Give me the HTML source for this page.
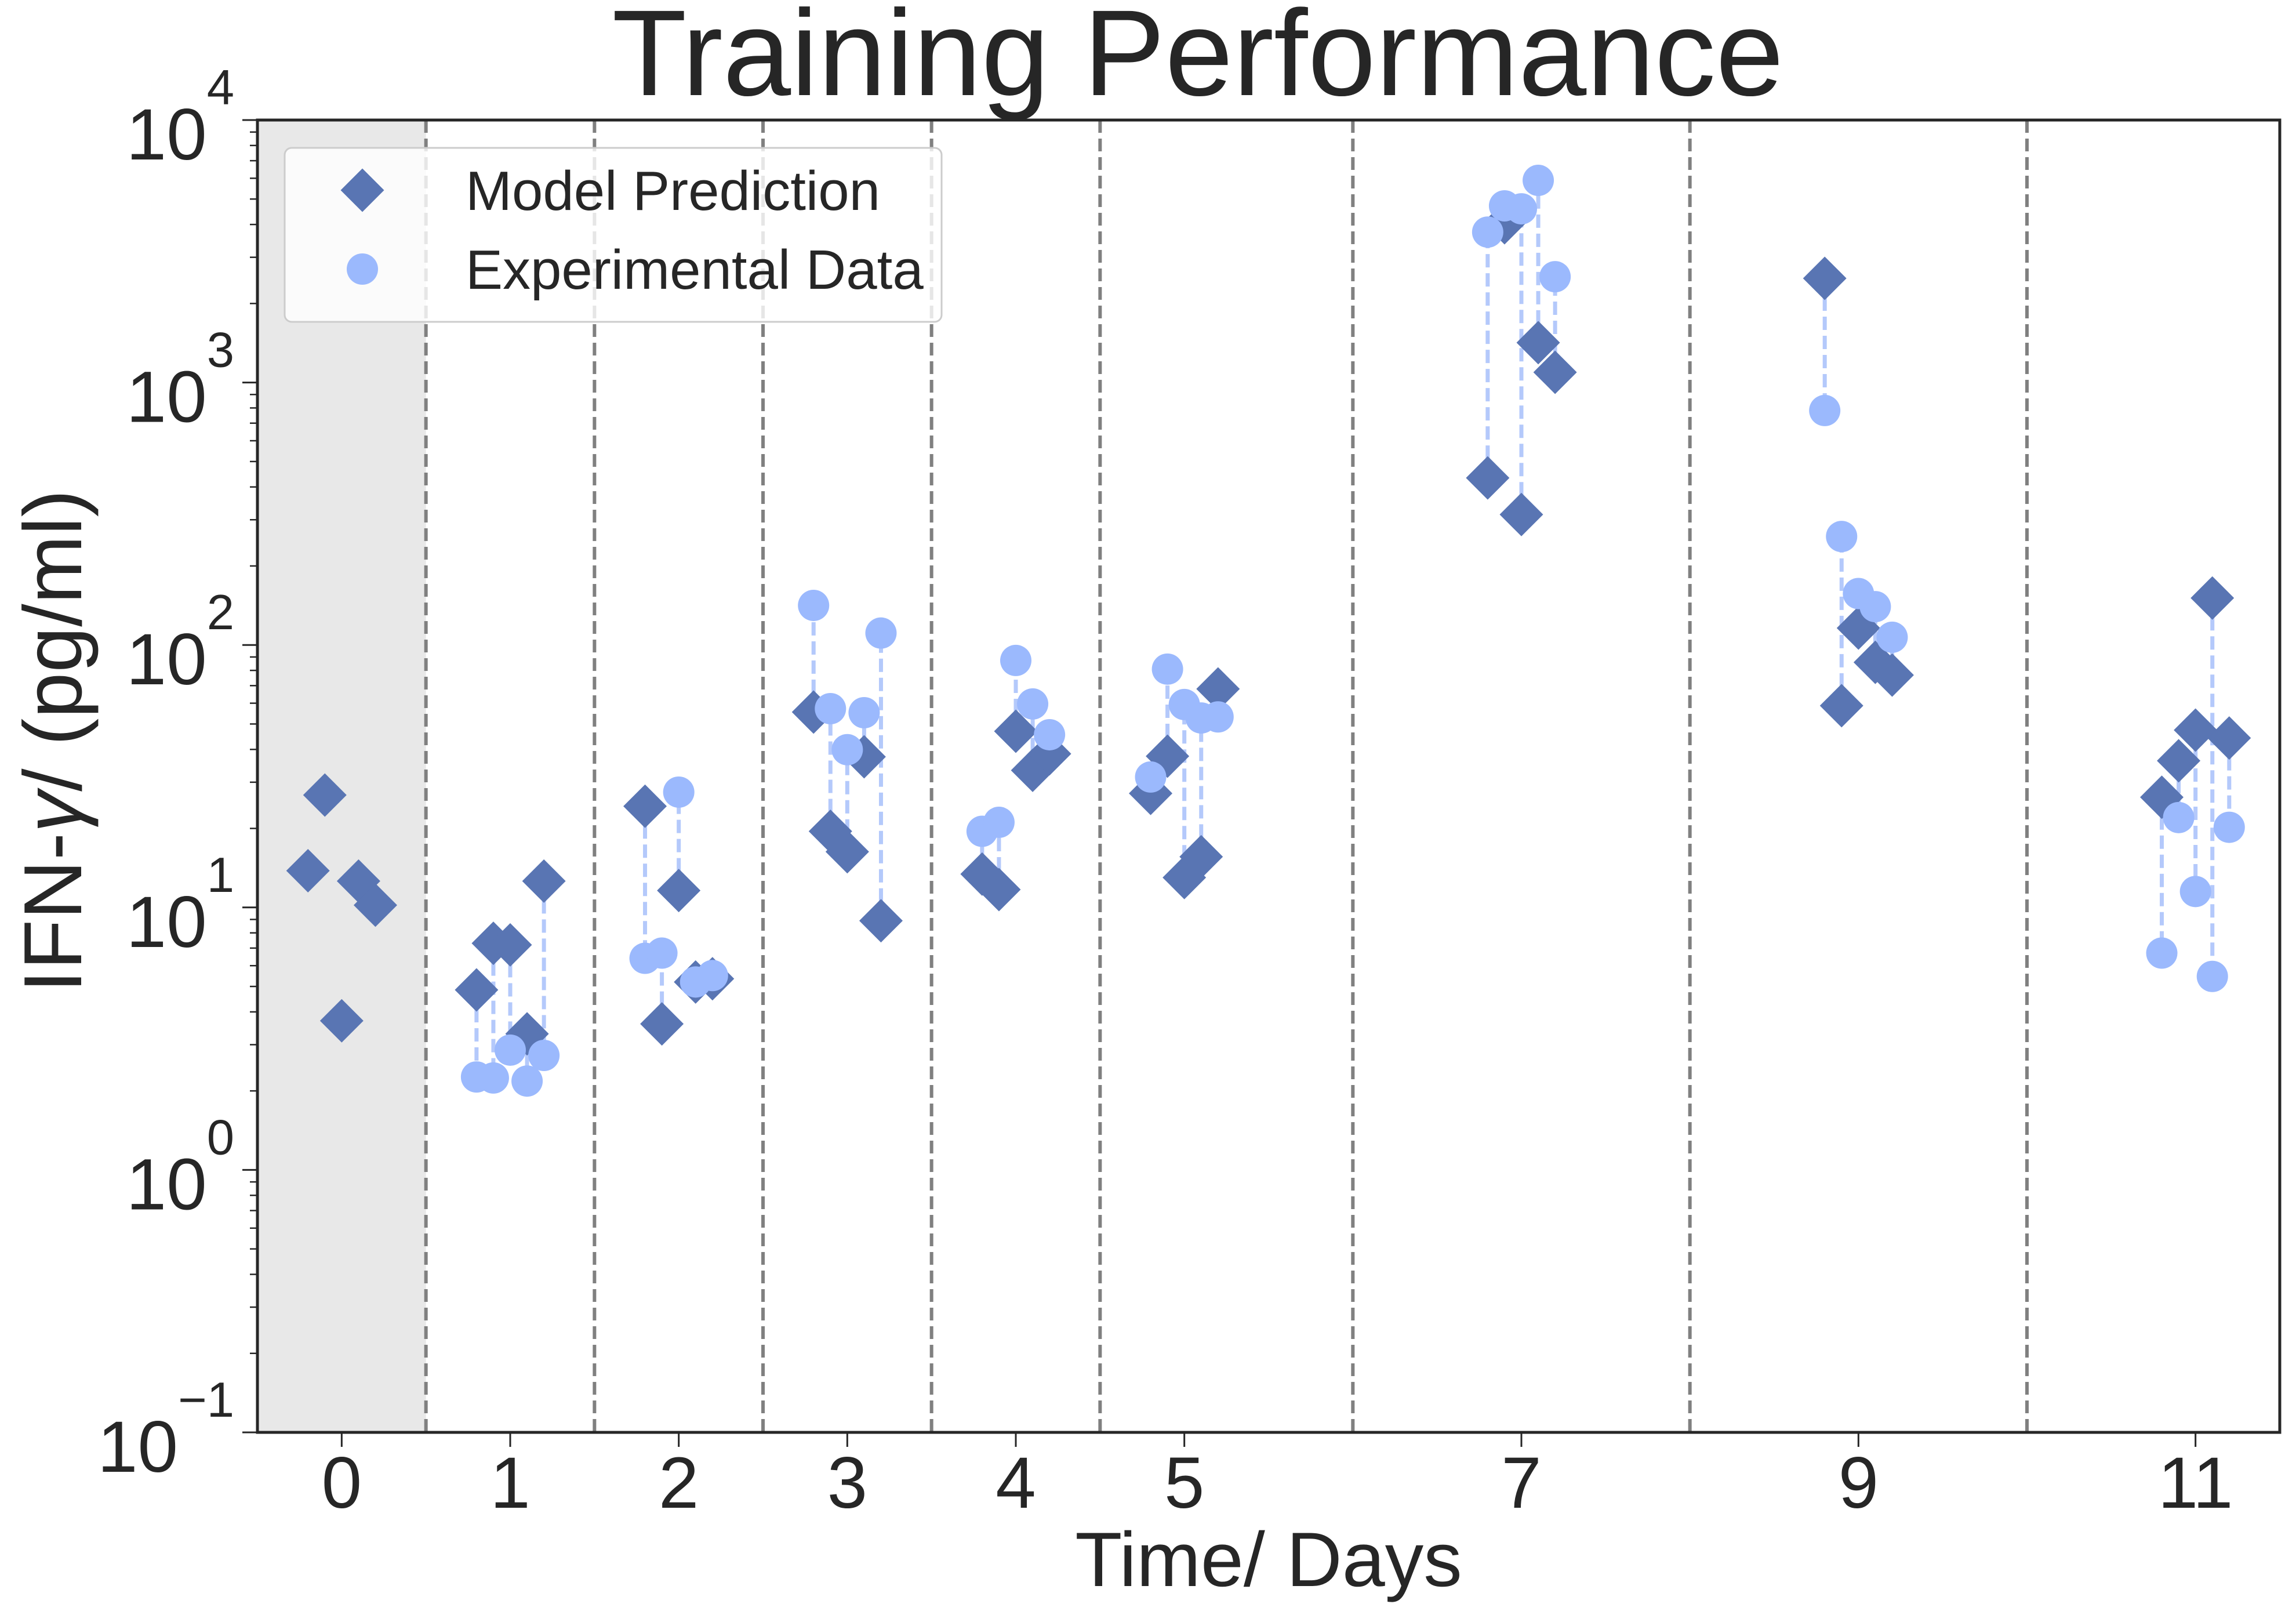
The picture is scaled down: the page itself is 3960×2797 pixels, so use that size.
<!DOCTYPE html>
<html><head><meta charset="utf-8"><style>
html,body{margin:0;padding:0;background:#fff;}
svg{display:block;font-family:"Liberation Sans",Arial,sans-serif;}
</style></head><body>
<svg id="chart" width="3960" height="2797" viewBox="0 0 3960 2797" xmlns="http://www.w3.org/2000/svg">
<rect x="0" y="0" width="3960" height="2797" fill="#ffffff"/>
<g id="plot"></g>
<text x="2066" y="164" font-size="211" text-anchor="middle" fill="#262626">Training Performance</text>
<text x="2188" y="2735" font-size="133" text-anchor="middle" fill="#262626">Time/ Days</text>
<text transform="translate(140,1278) rotate(-90)" font-size="142" text-anchor="middle" fill="#262626">IFN-<tspan font-style="italic">γ</tspan>/ (pg/ml)</text>
<g>
<rect x="491" y="255" width="1133" height="300" rx="12" fill="#ffffff" fill-opacity="0.8" stroke="#cccccc" stroke-width="3"/>
<g>
<polygon points="625,290.5 662.5,328 625,365.5 587.5,328" fill="#5975b3"/>
<text x="803" y="362" font-size="96" fill="#262626">Model Prediction</text>
</g>
<g>
<circle cx="625" cy="464" r="27" fill="#9bb9fd"/>
<text x="803" y="498" font-size="96" fill="#262626">Experimental Data</text>
</g>
</g>
</svg>
<script>
const days = [0,1,2,3,4,5,7,9,11];
const offsets = [-0.2,-0.1,0,0.1,0.2];
const modelValues = [
  [13.8,26.8,3.7,12.6,10.2],
  [4.85,7.3,7.2,3.3,12.6],
  [24.3,3.6,11.6,5.2,5.35],
  [55.5,19.5,16.3,37.5,8.9],
  [13.4,11.7,46.9,33.3,38.5],
  [27.2,37.7,13.0,15.6,68.0],
  [433,4060,314,1419,1094],
  [2494,58.7,116,85.9,76.8],
  [26.3,36.2,47.4,151,44.2]
];
const expValues = [
  [null,null,null,null,null],
  [2.26,2.24,2.86,2.18,2.73],
  [6.4,6.7,27.5,5.2,5.5],
  [141.5,57.2,39.9,55.2,111],
  [19.5,21.1,87.3,59.6,45.5],
  [31.4,80.9,59.3,52.7,53.2],
  [3742,4710,4590,5890,2530],
  [782,259,157,140,107],
  [6.7,22.0,11.5,5.46,20.2]
];
const xTickValues = [0,1,2,3,4,5,7,9,11];
const xTickLabels = ["0","1","2","3","4","5","7","9","11"];
const yTickExponents = [-1,0,1,2,3,4];
const separators = [0.5,1.5,2.5,3.5,4.5,6,8,10];

const NS="http://www.w3.org/2000/svg";
const L=444,R=3932,T=207,B=2470;
const xmin=-0.5,xmax=11.5,ymin=-1,ymax=4;
function xs(v){return L+(v-xmin)/(xmax-xmin)*(R-L);}
function ys(v){return B-(Math.log10(v)-ymin)/(ymax-ymin)*(B-T);}
function mk(tag,attrs,parent){const e=document.createElementNS(NS,tag);for(const k in attrs)e.setAttribute(k,attrs[k]);parent.appendChild(e);return e;}
const plot=document.getElementById('plot');

const shade=mk('rect',{x:xs(-0.5),y:T,width:xs(0.5)-xs(-0.5),height:B-T,fill:'#e8e8e8'},plot);



separators.forEach(s=>{
  const l=mk('line',{x1:xs(s),x2:xs(s),y1:T,y2:B,stroke:'#808080','stroke-width':6,'stroke-dasharray':'22,10'},plot);
  
  
});

days.forEach((d,i)=>{offsets.forEach((o,j)=>{
  const m=modelValues[i][j],e=expValues[i][j];
  if(m==null||e==null)return;
  const l=mk('line',{x1:xs(d+o),x2:xs(d+o),y1:ys(m),y2:ys(e),stroke:'#b4c9fb','stroke-width':7,'stroke-dasharray':'23,10'},plot);
  
  
});});
days.forEach((d,i)=>{offsets.forEach((o,j)=>{
  const m=modelValues[i][j]; if(m==null)return;
  const cx=xs(d+o),cy=ys(m),h=37.5;
  const p=mk('polygon',{points:`${cx},${cy-h} ${cx+h},${cy} ${cx},${cy+h} ${cx-h},${cy}`,fill:'#5975b3'},plot);
  
  
});});
days.forEach((d,i)=>{offsets.forEach((o,j)=>{
  const e=expValues[i][j]; if(e==null)return;
  const c=mk('circle',{cx:xs(d+o),cy:ys(e),r:27,fill:'#9bb9fd'},plot);
  
  
});});

const frame=mk('rect',{x:L,y:T,width:R-L,height:B-T,fill:'none',stroke:'#262626','stroke-width':5},plot);



xTickValues.forEach((v,i)=>{
  const t=mk('line',{x1:xs(v),x2:xs(v),y1:B+2,y2:B+25,stroke:'#262626','stroke-width':3},plot);
  
  
  const tx=mk('text',{x:xs(v),y:2600,'font-size':125,'text-anchor':'middle',fill:'#262626'},plot);
  tx.textContent=xTickLabels[i];
  
  
});
yTickExponents.forEach(ex=>{
  const y=ys(Math.pow(10,ex));
  const t=mk('line',{x1:L-26,x2:L,y1:y,y2:y,stroke:'#262626','stroke-width':3},plot);
  
  
  const tx=mk('text',{x:404,y:y+68,'font-size':125,'text-anchor':'end',fill:'#262626'},plot);
  
  
  const a=document.createElementNS(NS,'tspan');a.textContent='10';tx.appendChild(a);
  const b=document.createElementNS(NS,'tspan');b.setAttribute('font-size','85');b.setAttribute('dy','-95');
  b.textContent=ex<0?'\u2212'+Math.abs(ex):String(ex);tx.appendChild(b);
  if(ex<ymax){for(let k=2;k<=9;k++){
    const my=ys(k*Math.pow(10,ex));
    const mt=mk('line',{x1:L-13,x2:L,y1:my,y2:my,stroke:'#262626','stroke-width':2.5},plot);
    
    
  }}
});
</script>
</body></html>
